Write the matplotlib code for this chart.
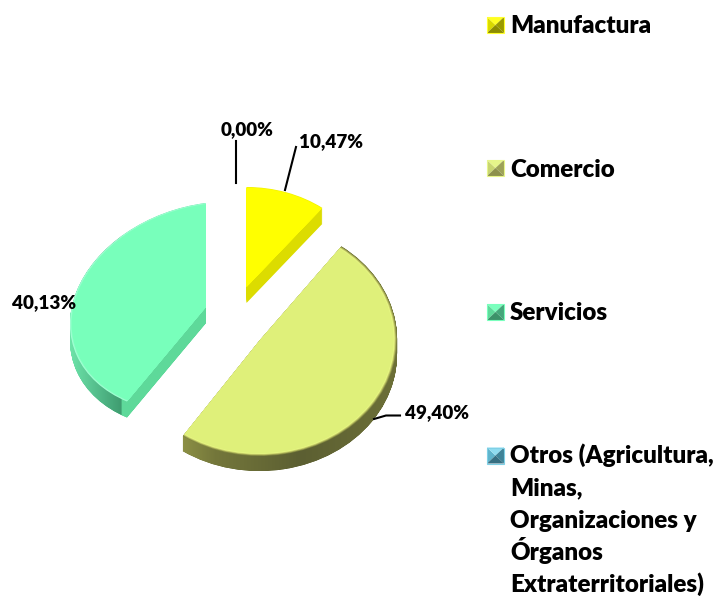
import numpy as np
import matplotlib
matplotlib.use("Agg")
import matplotlib.pyplot as plt
from matplotlib.colors import to_rgb
from matplotlib.patches import Polygon, Rectangle
from matplotlib.path import Path
from matplotlib.transforms import Affine2D

categories = ["Manufactura", "Comercio", "Servicios",
              "Otros (Agricultura,\nMinas,\nOrganizaciones y\nÓrganos\nExtraterritoriales)"]
values = [10.47, 49.40, 40.13, 0.00]
value_labels = ["10,47%", "49,40%", "40,13%", "0,00%"]

# per-slice projection in pixels: cx, cy, a, b, x-shear, y-shear, extrusion depth
geom = [(246.5, 287, 124, 100, 0, 0, 16),
        (260, 340, 137, 116, -3, -3, 15),
        (206, 307, 136, 104, 0, -17, 16),
        (230, 300, 120, 100, 0, 0, 16)]
face = ["#ffff00", "#dff07a", "#78ffbb", "#4bacc6"]
side = ["#dcdc00", "#6b6e38", "#5ed99a", "#3f8fa5"]
rim = [["#f0f000"],
       ["#7f843f", "#a8ad58", "#cdd56c", "#e8f884"],
       ["#a5ffd6", "#8effc8"],
       ["#4bacc6"]]
side_stops = {1: [(178, "#8f9346"), (215, "#74773b"), (300, "#5c5f32"), (400, "#6d7038")],
              2: [(68, "#6fe6ab"), (95, "#56c08e"), (121, "#3f9c70"), (122, "#5ed99a"), (210, "#5ed99a")]}
# marker facets: left, top, right, bottom, frame
marker_shades = [("#d8d800", "#ffff20", "#9a9a00", "#8c8c00", "#ffff30"),
                 ("#c8d570", "#e6f58a", "#9da257", "#8d914c", "#e6f58a"),
                 ("#5ed99a", "#7affbd", "#45a77a", "#3c9269", "#7affbd"),
                 ("#5fb4cc", "#8fdcf0", "#3f8398", "#366f82", "#7fd0e6")]

fig = plt.figure(figsize=(7.17, 5.96), dpi=100)
ax = fig.add_axes([0, 0, 1, 1])


def projection(i, scale=1.0, dy=0.0):
    cx, cy, a, b, s, k, _d = geom[i]
    return Affine2D(np.array([[a * scale, s * scale, cx],
                              [k * scale, -b * scale, cy + dy],
                              [0, 0, 1.0]]))


def draw_pie(colors, scale=1.0, dy=0.0):
    wedges, _ = ax.pie(values, colors=colors, startangle=90, counterclock=False,
                       wedgeprops={"linewidth": 0})
    for i, w in enumerate(wedges):
        w.set_transform(projection(i, scale, dy) + ax.transData)
    return wedges


# extruded sides
for d in range(16, 0, -1):
    draw_pie([side[i] if d <= geom[i][6] else "none" for i in range(4)], dy=d)

# shading of the curved walls
ang = np.cumsum([0] + values) / sum(values) * 360
for i, stops in side_stops.items():
    depth = geom[i][6]
    t1, t2 = 90 - ang[i + 1], 90 - ang[i]
    clip = Path.make_compound_path(*[Path.wedge(t1, t2).transformed(projection(i, 1.0, d))
                                     for d in np.arange(0, depth + 0.5, 0.5)])
    xs = np.arange(stops[0][0], stops[-1][0] + 1)
    rgb = [to_rgb(s[1]) for s in stops]
    grad = np.stack([np.interp(xs, [s[0] for s in stops], [c[j] for c in rgb]) for j in range(3)], axis=-1)[None, :, :]
    im = ax.imshow(grad, extent=(xs[0], xs[-1], 490, 180), aspect="auto", zorder=1.5, interpolation="bilinear")
    im.set_clip_path(clip, ax.transData)

# top faces with a soft bevel towards the rim
n = max(len(r) for r in rim)
for j in range(n + 1):
    cols = [rim[i][j] if j < len(rim[i]) else face[i] for i in range(4)]
    for w in draw_pie(cols, scale=1 - j * 0.006):
        w.set_zorder(2)

# leader lines
ax.plot([236, 236], [141, 183], color="black", lw=1.5, zorder=3)
ax.plot([296, 285], [147, 190], color="black", lw=1.5, zorder=3)
ax.plot([374, 386, 400], [419, 415.5, 415.5], color="black", lw=1.5, zorder=3)

# data labels
label_pos = [(331, 147), (437, 418), (44, 308), (247, 135)]
for txt, (x, y) in zip(value_labels, label_pos):
    ax.text(x, y, txt, ha="center", va="baseline", family="Lato", weight="heavy",
            fontsize=13.6, color="black", zorder=4)

# legend
marker_y = [25, 168, 312, 455.5]
text_baselines = [[33], [177], [320], [463, 495.5, 528, 560.5, 592]]
for i, (cat, y) in enumerate(zip(categories, marker_y)):
    x0, x1, y0, y1 = 487, 504, y - 8, y + 8
    xm, ym = (x0 + x1) / 2, (y0 + y1) / 2
    l, t, r, bt, fr = marker_shades[i]
    ax.add_patch(Polygon([(x0, y0), (xm, ym), (x0, y1)], fc=l, lw=0, zorder=3))
    ax.add_patch(Polygon([(x0, y0), (x1, y0), (xm, ym)], fc=t, lw=0, zorder=3))
    ax.add_patch(Polygon([(x1, y0), (x1, y1), (xm, ym)], fc=r, lw=0, zorder=3))
    ax.add_patch(Polygon([(x0, y1), (x1, y1), (xm, ym)], fc=bt, lw=0, zorder=3))
    ax.add_patch(Rectangle((x0, y0), x1 - x0, y1 - y0, fc="none", ec=fr, lw=0.8, zorder=3))
    for line, base in zip(cat.split("\n"), text_baselines[i]):
        ax.text(510, base, line, ha="left", va="baseline", family="Lato", weight="heavy",
                fontsize=17.4, color="black", zorder=4)

ax.set_aspect("auto")
ax.set_xlim(0, 717)
ax.set_ylim(596, 0)
ax.axis("off")
fig.savefig("out.png", dpi=100)
